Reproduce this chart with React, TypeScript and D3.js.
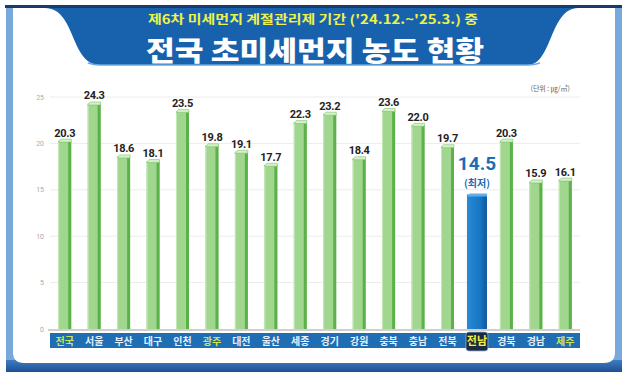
import React from "react";
import * as d3 from "d3";

const categories = ["전국", "서울", "부산", "대구", "인천", "광주", "대전", "울산", "세종", "경기", "강원", "충북", "충남", "전북", "전남", "경북", "경남", "제주"];
const values = [20.3, 24.3, 18.6, 18.1, 23.5, 19.8, 19.1, 17.7, 22.3, 23.2, 18.4, 23.6, 22.0, 19.7, 14.5, 20.3, 15.9, 16.1];
const yTicks = [0, 5, 10, 15, 20, 25];
const highlightLabels = ["전국", "광주", "제주"];
const lowest = "전남";
const subtitle = "제6차 미세먼지 계절관리제 기간 ('24.12.~'25.3.) 중";
const title = "전국 초미세먼지 농도 현황";
const unitText = "(단위 : ㎍/㎥)";
const lowestNote = "(최저)";

const W = 628;
const H = 381;
const KR = "'Noto Sans CJK KR', 'Noto Sans', sans-serif";
const NUM = "Roboto, 'Noto Sans', sans-serif";

export default function App() {
  const y = d3.scaleLinear().domain([0, 25]).range([329, 97]);
  const x = d3.scaleBand<string>().domain(categories).range([50, 580]).padding(0);
  const cx = (c: string) => (x(c) as number) + x.bandwidth() / 2;
  const y0 = y(0);

  return (
    <svg width={W} height={H} style={{ position: "absolute", left: 0, top: 0, background: "#fff" }}>
      <defs>
        <linearGradient id="bottomBand" x1="0" x2="0" y1="0" y2="1">
          <stop offset="0" stopColor="#3f7cc0" />
          <stop offset="1" stopColor="#1f4f94" />
        </linearGradient>
        <linearGradient id="blueBar" x1="0" x2="1" y1="0" y2="0">
          <stop offset="0" stopColor="#2b8ad4" />
          <stop offset="0.7" stopColor="#1674c2" />
          <stop offset="1" stopColor="#0d569c" />
        </linearGradient>
      </defs>
      {/* frame */}
      <rect x={6} y={8} width={616} height={364} fill="#78a9dc" />
      <rect x={6} y={360} width={616} height={12} fill="url(#bottomBand)" />
      <path d="M13,8 L615,8 L615,352 Q615,363 604,363 L24,363 Q13,363 13,352 Z" fill="#ffffff" />
      <rect x={5} y={5} width={617} height={3} fill="#1b3a6b" />
      {/* banner */}
      <path d="M45,8 C76,8 70,65 100,65 L528,65 C552,65 550,8 578,8 Z" fill="#1861ad" />
      <path d="M88,63 Q94,65 100,65 L528,65 Q534,65 540,63" fill="none" stroke="#6aa6e0" strokeWidth={1.5} />
      <text x={313} y={23.5} textAnchor="middle" fontFamily={KR} fontWeight={700} fontSize={12.5} fill="#eef24a" textLength={330} lengthAdjust="spacingAndGlyphs">{subtitle}</text>
      <text x={315} y={60.5} textAnchor="middle" fontFamily={KR} fontWeight={900} fontSize={27} fill="#ffffff" textLength={338} lengthAdjust="spacingAndGlyphs">{title}</text>

      {/* unit */}
      <text x={570} y={91} textAnchor="end" fontFamily={KR} fontSize={7} fill="#666">{unitText}</text>

      {/* grid */}
      {yTicks.map((t) => (
        <g key={t}>
          {t > 0 && <line x1={50} x2={580} y1={y(t)} y2={y(t)} stroke="#ececec" strokeWidth={1} />}
          <text x={44} y={y(t) + 2.5} textAnchor="end" fontFamily={NUM} fontSize={7} fill="#aaa">{t}</text>
        </g>
      ))}
      <line x1={48} x2={580} y1={y0 + 1} y2={y0 + 1} stroke="#cfcfcf" strokeWidth={2} />

      {/* bars */}
      {categories.map((c, i) => {
        const v = values[i];
        const isLow = c === lowest;
        const bw = isLow ? 20 : 13;
        const left = cx(c) - bw / 2;
        const top = y(v);
        if (isLow) {
          return (
            <g key={c}>
              <rect x={left} y={top} width={bw} height={y0 - top} fill="url(#blueBar)" />
              <path d={`M${left},${top + 2} L${left + 3},${top - 1} L${left + bw},${top - 1} L${left + bw},${top + 2} Z`} fill="#5fb0ea" />
              <text x={cx(c)} y={170} textAnchor="middle" fontFamily={NUM} fontWeight={700} fontSize={19} fill="#1b6bb6">{v.toFixed(1)}</text>
              <text x={cx(c)} y={187} textAnchor="middle" fontFamily={KR} fontWeight={700} fontSize={10} fill="#1b6bb6">{lowestNote}</text>
            </g>
          );
        }
        return (
          <g key={c}>
            <rect x={left} y={top} width={bw} height={y0 - top} fill="#a0d68e" />
            <rect x={left + bw - 3} y={top} width={3} height={y0 - top} fill="#5cb24a" />
            <rect x={left} y={top} width={1} height={y0 - top} fill="#c4e8b6" />
            <path d={`M${left},${top + 1.5} L${left + 2.5},${top - 1.5} L${left + bw},${top - 1.5} L${left + bw},${top + 1.5} Z`} fill="#d6f0cb" stroke="#7cc66a" strokeWidth={0.6} />
            <text x={cx(c)} y={top - 4} textAnchor="middle" fontFamily={NUM} fontWeight={700} fontSize={11} fill="#222" letterSpacing={-0.3}>{v.toFixed(1)}</text>
          </g>
        );
      })}

      {/* category strip */}
      <rect x={50} y={333} width={530} height={15} fill="#1f6db3" />
      {categories.map((c) => {
        const isLow = c === lowest;
        const hl = highlightLabels.includes(c);
        return (
          <g key={c}>
            {isLow && <rect x={cx(c) - 11} y={332} width={22} height={19} rx={3} fill="#1c2a3c" stroke="#8fb4d8" strokeWidth={0.8} />}
            <text x={cx(c)} y={344.5} textAnchor="middle" fontFamily={KR} fontWeight={700} fontSize={isLow ? 11 : 10} fill={isLow ? "#f4f04a" : hl ? "#cfe74c" : "#e6f0fb"}>{c}</text>
          </g>
        );
      })}
    </svg>
  );
}
